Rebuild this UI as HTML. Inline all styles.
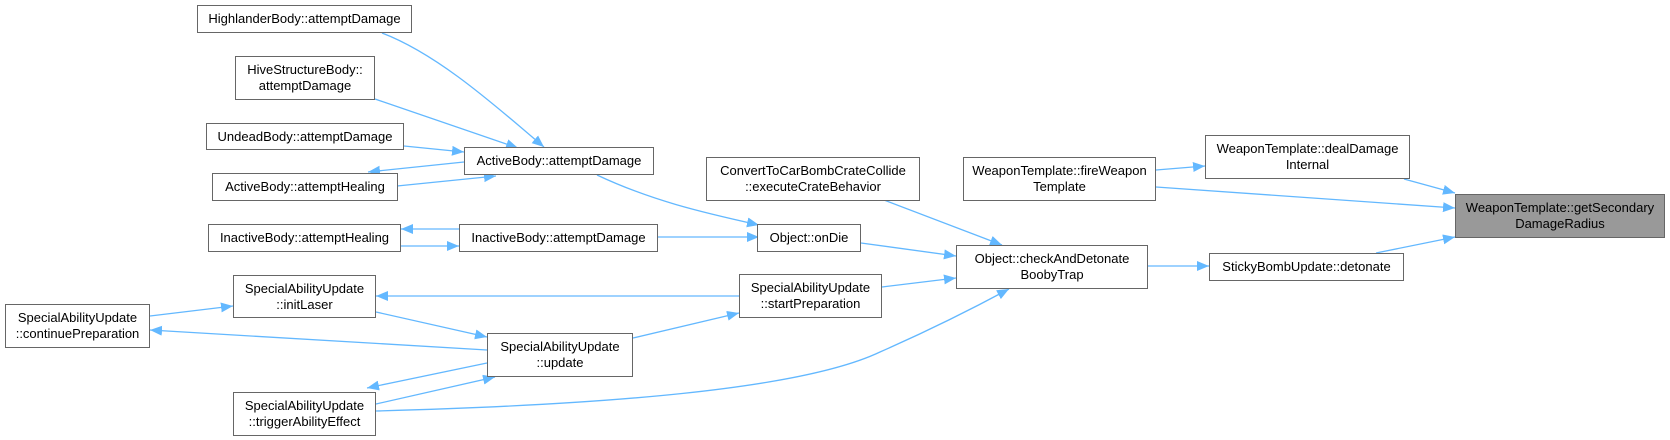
<!DOCTYPE html>
<html><head><meta charset="utf-8"><style>
body{margin:0;width:1670px;height:440px;background:#fff;position:relative;overflow:hidden;font-family:"Liberation Sans",Arial,sans-serif}
.n{position:absolute;box-sizing:border-box;border:1px solid #666;background:#fff;display:flex;align-items:center;justify-content:center;text-align:center;font-size:13px;line-height:16px;color:#000;white-space:nowrap}
.g{background:#999}
svg{position:absolute;left:0;top:0}
</style></head><body>
<svg width="1670" height="440">
<defs><marker id="a" markerUnits="userSpaceOnUse" markerWidth="14" markerHeight="12" refX="12" refY="5" orient="auto"><path d="M0,0 L12,5 L0,10 Z" fill="#63b8ff"/></marker></defs>
<g fill="none" stroke="#63b8ff" stroke-width="1.3" marker-end="url(#a)">
<path d="M382,33 C440,55 500,110 544,147"/>
<path d="M375,99 L518,148"/>
<path d="M404,146 L464,152"/>
<path d="M464,162 L368,172"/>
<path d="M397,186 L496,176"/>
<path d="M459,229 L401,229"/>
<path d="M401,246 L459,246"/>
<path d="M658,237 L759,237"/>
<path d="M597,175 C650,200 700,212 759,225"/>
<path d="M884,200 L1002,245"/>
<path d="M861,243 L956,256"/>
<path d="M882,287 L956,278"/>
<path d="M376,411 C600,405 800,390 880,352 C930,330 970,310 1009,289"/>
<path d="M1148,266 L1209,266"/>
<path d="M1156,170 L1205,166"/>
<path d="M1156,187 L1455,208"/>
<path d="M1404,179 L1455,193"/>
<path d="M1376,253 L1455,237"/>
<path d="M739,296 L376,296"/>
<path d="M633,338 L739,313"/>
<path d="M376,312 L487,337"/>
<path d="M150,316 L233,306"/>
<path d="M487,350 L150,330"/>
<path d="M487,363 L367,388"/>
<path d="M376,404 L495,377"/>
</g></svg>
<div class="n" style="left:197px;top:5px;width:215px;height:28px">HighlanderBody::attemptDamage</div>
<div class="n" style="left:235px;top:56px;width:140px;height:44px">HiveStructureBody::<br>attemptDamage</div>
<div class="n" style="left:206px;top:123px;width:198px;height:27px">UndeadBody::attemptDamage</div>
<div class="n" style="left:212px;top:173px;width:186px;height:28px">ActiveBody::attemptHealing</div>
<div class="n" style="left:464px;top:147px;width:190px;height:28px">ActiveBody::attemptDamage</div>
<div class="n" style="left:208px;top:224px;width:193px;height:28px">InactiveBody::attemptHealing</div>
<div class="n" style="left:459px;top:224px;width:199px;height:28px">InactiveBody::attemptDamage</div>
<div class="n" style="left:233px;top:275px;width:143px;height:43px">SpecialAbilityUpdate<br>::initLaser</div>
<div class="n" style="left:5px;top:304px;width:145px;height:44px">SpecialAbilityUpdate<br>::continuePreparation</div>
<div class="n" style="left:487px;top:333px;width:146px;height:44px">SpecialAbilityUpdate<br>::update</div>
<div class="n" style="left:233px;top:392px;width:143px;height:44px">SpecialAbilityUpdate<br>::triggerAbilityEffect</div>
<div class="n" style="left:706px;top:157px;width:214px;height:44px">ConvertToCarBombCrateCollide<br>::executeCrateBehavior</div>
<div class="n" style="left:757px;top:224px;width:104px;height:28px">Object::onDie</div>
<div class="n" style="left:739px;top:274px;width:143px;height:44px">SpecialAbilityUpdate<br>::startPreparation</div>
<div class="n" style="left:956px;top:245px;width:192px;height:44px">Object::checkAndDetonate<br>BoobyTrap</div>
<div class="n" style="left:963px;top:157px;width:193px;height:44px">WeaponTemplate::fireWeapon<br>Template</div>
<div class="n" style="left:1205px;top:135px;width:205px;height:44px">WeaponTemplate::dealDamage<br>Internal</div>
<div class="n" style="left:1209px;top:253px;width:195px;height:28px">StickyBombUpdate::detonate</div>
<div class="n g" style="left:1455px;top:194px;width:210px;height:44px">WeaponTemplate::getSecondary<br>DamageRadius</div>
</body></html>
